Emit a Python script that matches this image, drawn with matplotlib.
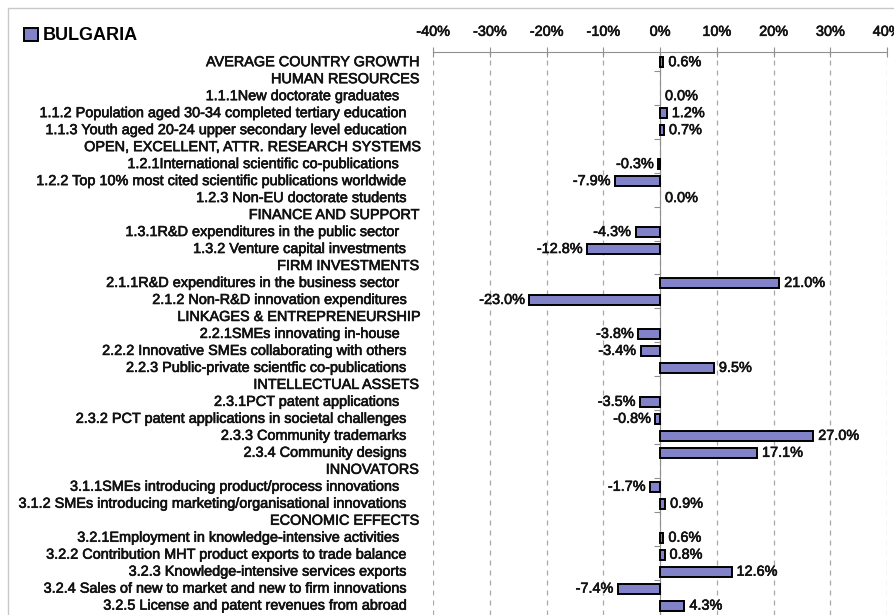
import matplotlib
matplotlib.use("Agg")
import matplotlib.pyplot as plt
import matplotlib.transforms as mtransforms
import matplotlib.patheffects as pe
from matplotlib.patches import Patch, Rectangle
import numpy as np

plt.rcParams['font.family'] = ['Liberation Sans', 'DejaVu Sans']

country = "BULGARIA"

labels = [
    "AVERAGE COUNTRY GROWTH",
    "HUMAN RESOURCES",
    "1.1.1New doctorate graduates",
    "1.1.2 Population aged 30-34 completed tertiary education",
    "1.1.3 Youth aged 20-24 upper secondary level education",
    "OPEN, EXCELLENT, ATTR. RESEARCH SYSTEMS",
    "1.2.1International scientific co-publications",
    "1.2.2 Top 10% most cited scientific publications worldwide",
    "1.2.3 Non-EU doctorate students",
    "FINANCE AND SUPPORT",
    "1.3.1R&D expenditures in the public sector",
    "1.3.2 Venture capital investments",
    "FIRM INVESTMENTS",
    "2.1.1R&D expenditures in the business sector",
    "2.1.2 Non-R&D innovation expenditures",
    "LINKAGES & ENTREPRENEURSHIP",
    "2.2.1SMEs innovating in-house",
    "2.2.2 Innovative SMEs collaborating with others",
    "2.2.3 Public-private scientfic co-publications",
    "INTELLECTUAL ASSETS",
    "2.3.1PCT patent applications",
    "2.3.2 PCT patent applications in societal challenges",
    "2.3.3 Community trademarks",
    "2.3.4 Community designs",
    "INNOVATORS",
    "3.1.1SMEs introducing product/process innovations",
    "3.1.2 SMEs introducing marketing/organisational innovations",
    "ECONOMIC EFFECTS",
    "3.2.1Employment in knowledge-intensive activities",
    "3.2.2 Contribution MHT product exports to trade balance",
    "3.2.3 Knowledge-intensive services exports",
    "3.2.4 Sales of new to market and new to firm innovations",
    "3.2.5 License and patent revenues from abroad",
]

# growth in %, None for section headers
growth = [0.6, None, 0.0, 1.2, 0.7, None, -0.3, -7.9, 0.0, None, -4.3, -12.8,
          None, 21.0, -23.0, None, -3.8, -3.4, 9.5, None, -3.5, -0.8, 27.0,
          17.1, None, -1.7, 0.9, None, 0.6, 0.8, 12.6, -7.4, 4.3]

xticks = [-40, -30, -20, -10, 0, 10, 20, 30, 40]

bar_col = '#8282C8'
grid_col = '#A8A8A8'
W, H = 894, 615
fs = 10.4
heavy = [pe.withStroke(linewidth=0.45, foreground='#111111')]

fig = plt.figure(figsize=(W/100, H/100), dpi=100)
ax = fig.add_axes([433/W, 0, (887-433)/W, 1 - 52/H])

y = np.arange(len(labels))
vals = np.array([np.nan if v is None else v for v in growth])
has_bar = ~np.isnan(vals) & (vals != 0)
ax.barh(y[has_bar], vals[has_bar], height=0.58, color=bar_col,
        edgecolor='black', linewidth=1.4, zorder=3)

off = mtransforms.offset_copy
for yi, v in zip(y, vals):
    if np.isnan(v):
        continue
    if v >= 0:
        tr = off(ax.transData, fig=fig, x=5, y=0, units='dots')
        ha = 'left'
    else:
        tr = off(ax.transData, fig=fig, x=-5, y=0, units='dots')
        ha = 'right'
    ax.text(v, yi, f"{v:.1f}%", transform=tr, ha=ha, va='center',
            fontsize=fs, color='#111111', path_effects=heavy, zorder=4)

# category labels on the left
lab_tr = mtransforms.blended_transform_factory(fig.transFigure, ax.transData)
for yi, lab in zip(y, labels):
    if lab.isupper():
        xr = 418
    elif lab[5] != ' ':
        xr = 399
    else:
        xr = 406
    ax.text(xr/W, yi, lab, transform=lab_tr, ha='right', va='center',
            fontsize=fs, color='#111111', path_effects=heavy, clip_on=False)

ax.set_xlim(-40, 40)
ax.set_ylim(32.55, -0.6)

ax.xaxis.tick_top()
ax.set_xticks(xticks)
ax.set_xticklabels([f"{t}%" for t in xticks], fontsize=fs, color='#111111',
                   path_effects=heavy)
ax.tick_params(axis='x', direction='inout', length=7, color='#909090', pad=6)
ax.grid(axis='x', linestyle=(0, (4, 4)), color=grid_col, linewidth=0.9, zorder=0)

# y axis sits on zero, small ticks every two rows
ax.spines['left'].set_position(('data', 0))
ax.spines['left'].set_color('#909090')
ax.spines['top'].set_color('#909090')
ax.spines['right'].set_visible(False)
ax.spines['bottom'].set_visible(False)
ax.set_yticks(np.arange(0.5, len(labels) - 1, 2))
ax.set_yticklabels([])
ax.tick_params(axis='y', direction='out', length=4, color='#909090')

# chart border
fig.patches.append(Rectangle((8/W, -0.1), 2, 1.1 - 8/H, transform=fig.transFigure,
                             fill=False, edgecolor='#C8C8C8', linewidth=1))

fig.legend(handles=[Patch(facecolor=bar_col, edgecolor='black', linewidth=1.4)],
           labels=[country], loc='center left', bbox_to_anchor=(15/W, 1 - 36/H),
           frameon=False, borderpad=0, handlelength=0.75, handleheight=0.75,
           handletextpad=0.3, prop={'weight': 'bold', 'size': 13})

fig.savefig("out.png", dpi=100)
